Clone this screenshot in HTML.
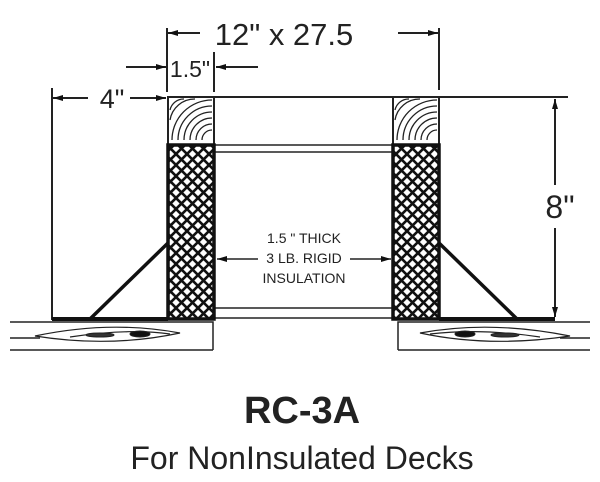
<!DOCTYPE html>
<html><head><style>body{margin:0;background:#fff}svg{display:block}</style></head><body>
<svg width="600" height="482" viewBox="0 0 600 482" xmlns="http://www.w3.org/2000/svg" font-family="Liberation Sans, sans-serif">
<defs>
<pattern id="xh" width="11" height="11" patternUnits="userSpaceOnUse">
<rect width="11" height="11" fill="#fff"/>
<path d="M0 0L11 11M11 0L0 11M-1 10L1 12M10 -1L12 1" stroke="#111" stroke-width="2.6"/>
</pattern>
<marker id="ar" markerWidth="10" markerHeight="8" refX="10" refY="4" orient="auto" markerUnits="userSpaceOnUse"><path d="M0 1L10 4L0 7z" fill="#111"/></marker>
</defs>
<g stroke="#222" fill="none">
<line x1="214" y1="97" x2="568" y2="97" stroke-width="2"/>
<line x1="214" y1="145" x2="393" y2="145" stroke-width="1.5"/>
<line x1="214" y1="152" x2="393" y2="152" stroke-width="1.5"/>
<line x1="214" y1="308" x2="393" y2="308" stroke-width="1.5"/>
<line x1="214" y1="318" x2="393" y2="318" stroke-width="1.5"/>
<rect x="168" y="97" width="46" height="48" fill="#fff" stroke-width="2"/>
<rect x="393" y="97" width="46" height="48" fill="#fff" stroke-width="2"/>
<g stroke-width="1.3">
<path d="M172 140 A40 40 0 0 1 212 100 M178 140 A34 34 0 0 1 212 106 M184 140 A28 28 0 0 1 212 112 M190 140 A22 22 0 0 1 212 118 M196 140 A16 16 0 0 1 212 124 M202 140 A10 10 0 0 1 212 130 M170 120 A25 25 0 0 1 195 99 M170 110 A14 14 0 0 1 184 99"/>
<path d="M397 140 A40 40 0 0 1 437 100 M403 140 A34 34 0 0 1 437 106 M409 140 A28 28 0 0 1 437 112 M415 140 A22 22 0 0 1 437 118 M421 140 A16 16 0 0 1 437 124 M427 140 A10 10 0 0 1 437 130 M395 120 A25 25 0 0 1 420 99 M395 110 A14 14 0 0 1 409 99"/>
</g>
<rect x="168" y="145" width="46" height="174" fill="url(#xh)" stroke="#111" stroke-width="3.5"/>
<rect x="393" y="145" width="46" height="174" fill="url(#xh)" stroke="#111" stroke-width="3.5"/>
<line x1="52" y1="88" x2="52" y2="320" stroke-width="2"/>
<line x1="52" y1="319" x2="168" y2="319" stroke-width="4" stroke="#111"/>
<line x1="90" y1="319" x2="168" y2="243" stroke-width="3.5" stroke="#111"/>
<line x1="439" y1="319" x2="555" y2="319" stroke-width="4" stroke="#111"/>
<line x1="439" y1="243" x2="517" y2="319" stroke-width="3.5" stroke="#111"/>
<path d="M10 322H213V350M10 350H213M10 338H40" stroke-width="1.5"/>
<path d="M398 350V322H590M398 350H590M560 338H590" stroke-width="1.5"/>
<path d="M35 336Q110 320 180 333Q110 348 35 336Z M70 337Q130 328 170 334" stroke-width="1.2"/>
<path d="M420 333Q490 320 570 336Q490 348 420 333Z M430 334Q480 328 540 337" stroke-width="1.2"/>
<ellipse cx="140" cy="334" rx="10" ry="3" fill="#111"/><ellipse cx="100" cy="335" rx="14" ry="2" fill="#333"/>
<ellipse cx="465" cy="334" rx="10" ry="3" fill="#111"/><ellipse cx="505" cy="335" rx="14" ry="2" fill="#333"/>
<line x1="167" y1="28" x2="167" y2="92" stroke-width="2"/>
<line x1="439" y1="28" x2="439" y2="90" stroke-width="2"/>
<line x1="200" y1="33" x2="168" y2="33" stroke-width="2" marker-end="url(#ar)"/>
<line x1="398" y1="33" x2="438" y2="33" stroke-width="2" marker-end="url(#ar)"/>
<line x1="214" y1="52" x2="214" y2="92" stroke-width="2"/>
<line x1="126" y1="67" x2="166" y2="67" stroke-width="2" marker-end="url(#ar)"/>
<line x1="258" y1="67" x2="216" y2="67" stroke-width="2" marker-end="url(#ar)"/>
<line x1="88" y1="98" x2="53" y2="98" stroke-width="2" marker-end="url(#ar)"/>
<line x1="130" y1="98" x2="166" y2="98" stroke-width="2" marker-end="url(#ar)"/>
<line x1="555" y1="185" x2="555" y2="99" stroke-width="2" marker-end="url(#ar)"/>
<line x1="555" y1="228" x2="555" y2="317" stroke-width="2" marker-end="url(#ar)"/>
<line x1="258" y1="259" x2="217" y2="259" stroke-width="1.5" marker-end="url(#ar)"/>
<line x1="350" y1="259" x2="391" y2="259" stroke-width="1.5" marker-end="url(#ar)"/>
</g>
<g fill="#222">
<text x="284" y="45" font-size="31" text-anchor="middle">12" x 27.5</text>
<text x="190" y="77" font-size="23" text-anchor="middle">1.5"</text>
<text x="112" y="108" font-size="27" text-anchor="middle">4"</text>
<text x="560" y="218" font-size="32" text-anchor="middle">8"</text>
<text x="304" y="243" font-size="14" text-anchor="middle">1.5 " THICK</text>
<text x="304" y="263" font-size="14" text-anchor="middle">3 LB. RIGID</text>
<text x="304" y="283" font-size="14" text-anchor="middle">INSULATION</text>
<text x="302" y="423" font-size="38" font-weight="bold" text-anchor="middle">RC-3A</text>
<text x="302" y="469" font-size="32" text-anchor="middle">For NonInsulated Decks</text>
</g>
</svg>
</body></html>
